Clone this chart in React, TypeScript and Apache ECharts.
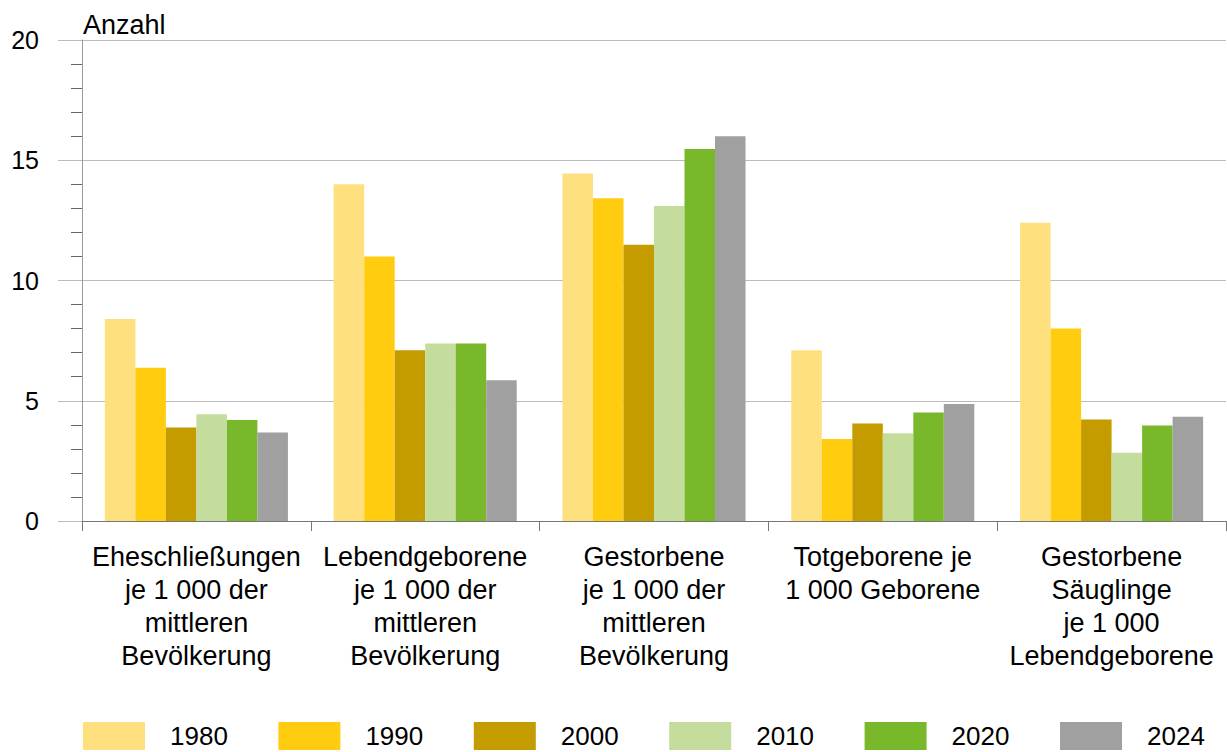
import React, { useEffect, useRef } from "react";
import * as echarts from "echarts";

const categories = [
  "Eheschließungen\nje 1 000 der\nmittleren\nBevölkerung",
  "Lebendgeborene\nje 1 000 der\nmittleren\nBevölkerung",
  "Gestorbene\nje 1 000 der\nmittleren\nBevölkerung",
  "Totgeborene je\n1 000 Geborene",
  "Gestorbene\nSäuglinge\nje 1 000\nLebendgeborene",
];

const years = ["1980", "1990", "2000", "2010", "2020", "2024"];
const colors = ["#ffe07f", "#ffcc0f", "#c49c00", "#c4dc9c", "#79b82b", "#a0a0a0"];

const v1980 = [8.4, 14.0, 14.45, 7.1, 12.4];
const v1990 = [6.37, 11.0, 13.42, 3.41, 8.0];
const v2000 = [3.89, 7.1, 11.49, 4.05, 4.22];
const v2010 = [4.44, 7.38, 13.1, 3.65, 2.84];
const v2020 = [4.2, 7.38, 15.47, 4.51, 3.97];
const v2024 = [3.68, 5.85, 16.0, 4.86, 4.33];
const values = [v1980, v1990, v2000, v2010, v2020, v2024];

const FONT = "'Liberation Sans', Arial, sans-serif";

export default function App() {
  const ref = useRef<HTMLDivElement>(null);
  useEffect(() => {
    if (!ref.current) return;
    const chart = echarts.init(ref.current, undefined, { renderer: "svg" });
    const legendStep = 195.4;
    chart.setOption({
      animation: false,
      textStyle: { fontFamily: FONT },
      grid: { left: 82, right: 1, top: 40, bottom: 231, containLabel: false },
      legend: years.map((y, i) => ({
        data: [y],
        left: 83 + legendStep * i,
        top: 722,
        padding: 0,
        itemWidth: 62,
        itemHeight: 28,
        icon: "rect",
        textStyle: {
          fontSize: 26,
          color: "#000",
          fontFamily: FONT,
          padding: [0, 0, 0, 20],
        },
      })),
      graphic: [
        {
          type: "text",
          left: 83,
          top: 11,
          style: { text: "Anzahl", fontSize: 27, fill: "#000", fontFamily: FONT },
        },
      ],
      xAxis: {
        type: "category",
        data: categories,
        axisLine: { show: true, lineStyle: { color: "#777", width: 1 } },
        axisTick: { show: true, length: 10, lineStyle: { color: "#777" } },
        axisLabel: {
          interval: 0,
          margin: 19,
          fontSize: 27,
          lineHeight: 33,
          color: "#000",
          fontFamily: FONT,
          align: "center",
        },
      },
      yAxis: {
        type: "value",
        min: 0,
        max: 20,
        interval: 5,
        axisLine: { show: true, lineStyle: { color: "#999", width: 1 } },
        axisTick: { show: true, length: 24, lineStyle: { color: "#bbb" } },
        minorTick: { show: true, splitNumber: 5, length: 11, lineStyle: { color: "#666" } },
        splitLine: { show: true, lineStyle: { color: "#bbb", width: 1 } },
        axisLabel: { margin: 43, fontSize: 25, color: "#000", fontFamily: FONT },
      },
      series: years.map((y, i) => ({
        name: y,
        type: "bar",
        data: values[i],
        barGap: "0%",
        barCategoryGap: "20%",
        itemStyle: { color: colors[i] },
      })),
    });
    return () => chart.dispose();
  }, []);
  return (
    <div
      ref={ref}
      style={{ position: "fixed", left: 0, top: 0, width: 1227, height: 752, background: "#fff" }}
    />
  );
}
